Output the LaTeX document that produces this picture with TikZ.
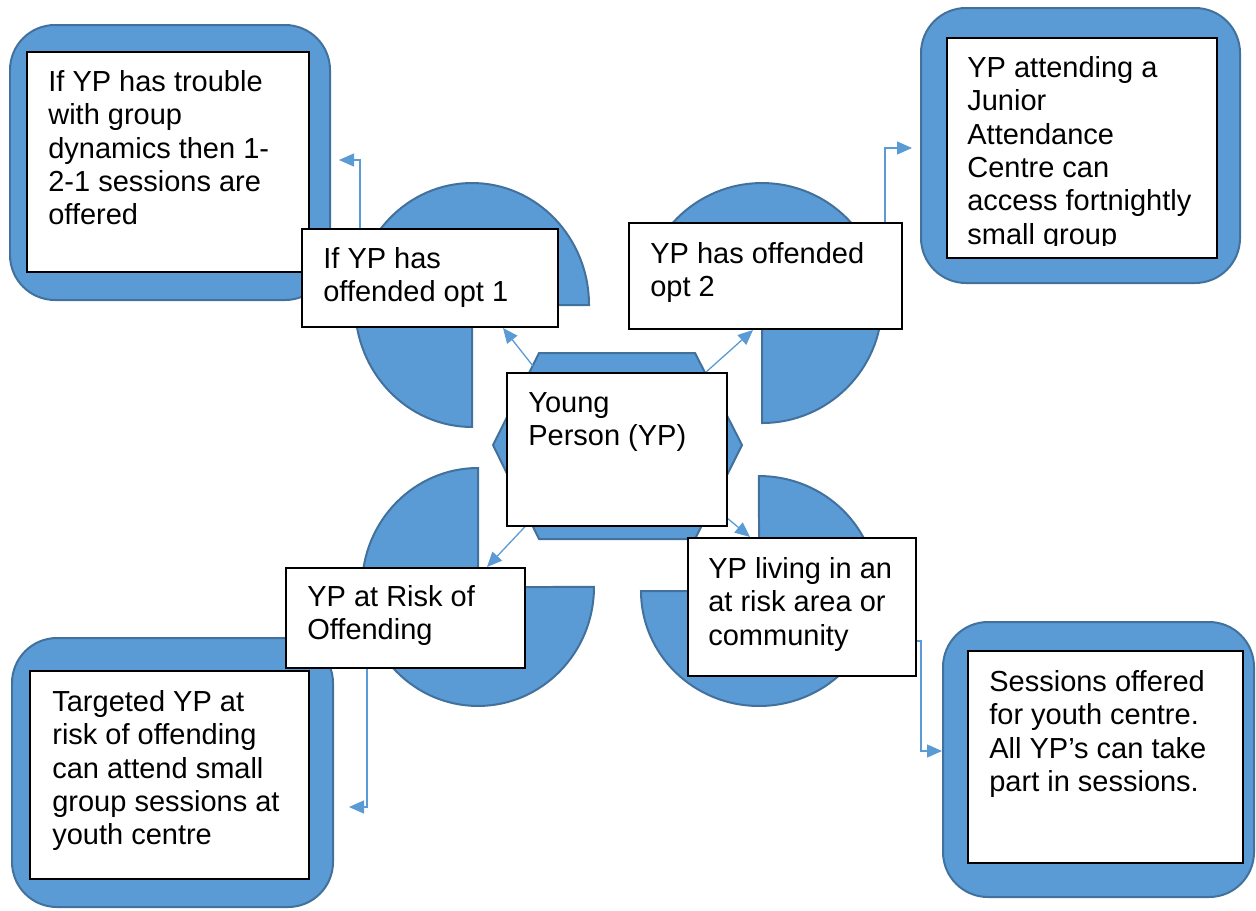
\documentclass[tikz,border=0pt]{standalone}
\usepackage{fontspec}
\setmainfont{Liberation Sans}
\usetikzlibrary{arrows.meta,fit}
\definecolor{shapeblue}{HTML}{5B9BD5}
\definecolor{lineblue}{HTML}{41719C}
\tikzset{
	pie/.style={fill=shapeblue,draw=lineblue,line width=0.04cm},
	outbox/.style={fill=shapeblue,draw=lineblue,line width=0.04cm,rounded corners=0.9cm,inner sep=0pt},
	whitebox/.style={fill=white,draw=black,line width=0.04cm,inner sep=0pt},
	boxtext/.style={anchor=north west,inner sep=0pt,align=left,font=\fontsize{16.5}{19}\selectfont},
	conn/.style={draw=shapeblue,line width=0.026cm,-{Triangle[length=0.3cm,width=0.26cm]}},
}
\begin{document}
\begin{tikzpicture}[x=0.02cm,y=-0.02cm]
		\useasboundingbox (0,0) rectangle (1256,910);
		\node[outbox,fit={(10,25) (330,300)}] (outA) {};
		\node[outbox,fit={(921,8) (1240,283)}] (outB) {};
		\node[outbox,fit={(12,638) (333,907)}] (outC) {};
		\node[outbox,fit={(943,622) (1254,897)}] (outD) {};
		\node[whitebox,fit={(27,52) (309,272)}] (noteA) {};
		\node[whitebox,fit={(947,38) (1217,258)}] (noteB) {};
		\node[whitebox,fit={(30,671) (309,879)}] (noteC) {};
		\node[whitebox,fit={(968,651) (1243,863)}] (noteD) {};
		\node[boxtext] (noteAtext) at (48,70) {If YP has trouble\\with group\\dynamics then 1-\\2-1 sessions are\\offered};
		\begin{scope}
		\clip (947,38) rectangle (1217,245);
		\node[boxtext] (noteBtext) at (967,56) {YP attending a\\Junior\\Attendance\\Centre can\\access fortnightly\\small group};
		\end{scope}
		\node[boxtext] (noteCtext) at (52,690) {Targeted YP at\\risk of offending\\can attend small\\group sessions at\\youth centre};
		\node[boxtext] (noteDtext) at (989,670) {Sessions offered\\for youth centre.\\All YP’s can take\\part in sessions.};
		\draw[pie] (472,305) -- ++(117,0) arc[start angle=0,end angle=270,x radius=2.34cm,y radius=2.44cm] -- cycle;
		\draw[pie] (762,303) -- ++(0,120) arc[start angle=-90,end angle=180,radius=2.4cm] -- cycle;
		\draw[pie] (478,587) -- ++(0,-119) arc[start angle=90,end angle=360,x radius=2.32cm,y radius=2.38cm] -- cycle;
		\draw[pie] (759,591) -- ++(-118,0) arc[start angle=180,end angle=450,x radius=2.36cm,y radius=2.3cm] -- cycle;
		\draw[pie] (539,353) -- (695,353) -- (742,445) -- (695,539) -- (539,539) -- (493,445) -- cycle;
		\coordinate (hexA) at (533,366);
		\coordinate (hexB) at (705,373);
		\coordinate (hexC) at (536,515);
		\coordinate (hexD) at (715,508);
		\node[whitebox,fit={(302,229) (558,327)}] (optA) {};
		\node[whitebox,fit={(629,223) (902,329)}] (optB) {};
		\node[whitebox,fit={(286,568) (525,668)}] (risk) {};
		\node[whitebox,fit={(688,538) (916,676)}] (live) {};
		\draw[conn] (hexA) -- (503,0 |- optA.south);
		\draw[conn] (hexB) -- (753,0 |- optB.south);
		\draw[conn] (hexC) -- (487,0 |- risk.north);
		\draw[conn] (hexD) -- (750,0 |- live.north);
		\draw[conn,shorten >=0.16cm] (optA.north -| 360,0) |- (outA.east |- 0,160);
		\draw[conn,shorten >=0.16cm] (optB.north -| 885,0) |- (outB.west |- 0,148);
		\draw[conn,shorten >=0.3cm] (risk.south -| 367,0) |- (outC.east |- 0,807);
		\draw[conn] (live.east |- 0,641) -- ++(4,0) |- (outD.west |- 0,751);
		\node[whitebox,fit={(507,373) (727,526)}] (yp) {};
		\node[boxtext] (optAtext) at (323,247) {If YP has\\offended opt 1};
		\node[boxtext] (optBtext) at (650,242) {YP has offended\\opt 2};
		\node[boxtext] (risktext) at (307,585) {YP at Risk of\\Offending};
		\node[boxtext] (livetext) at (708,557) {YP living in an\\at risk area or\\community};
		\node[boxtext] (yptext) at (528,392) {Young\\Person (YP)};
\end{tikzpicture}
\end{document}
